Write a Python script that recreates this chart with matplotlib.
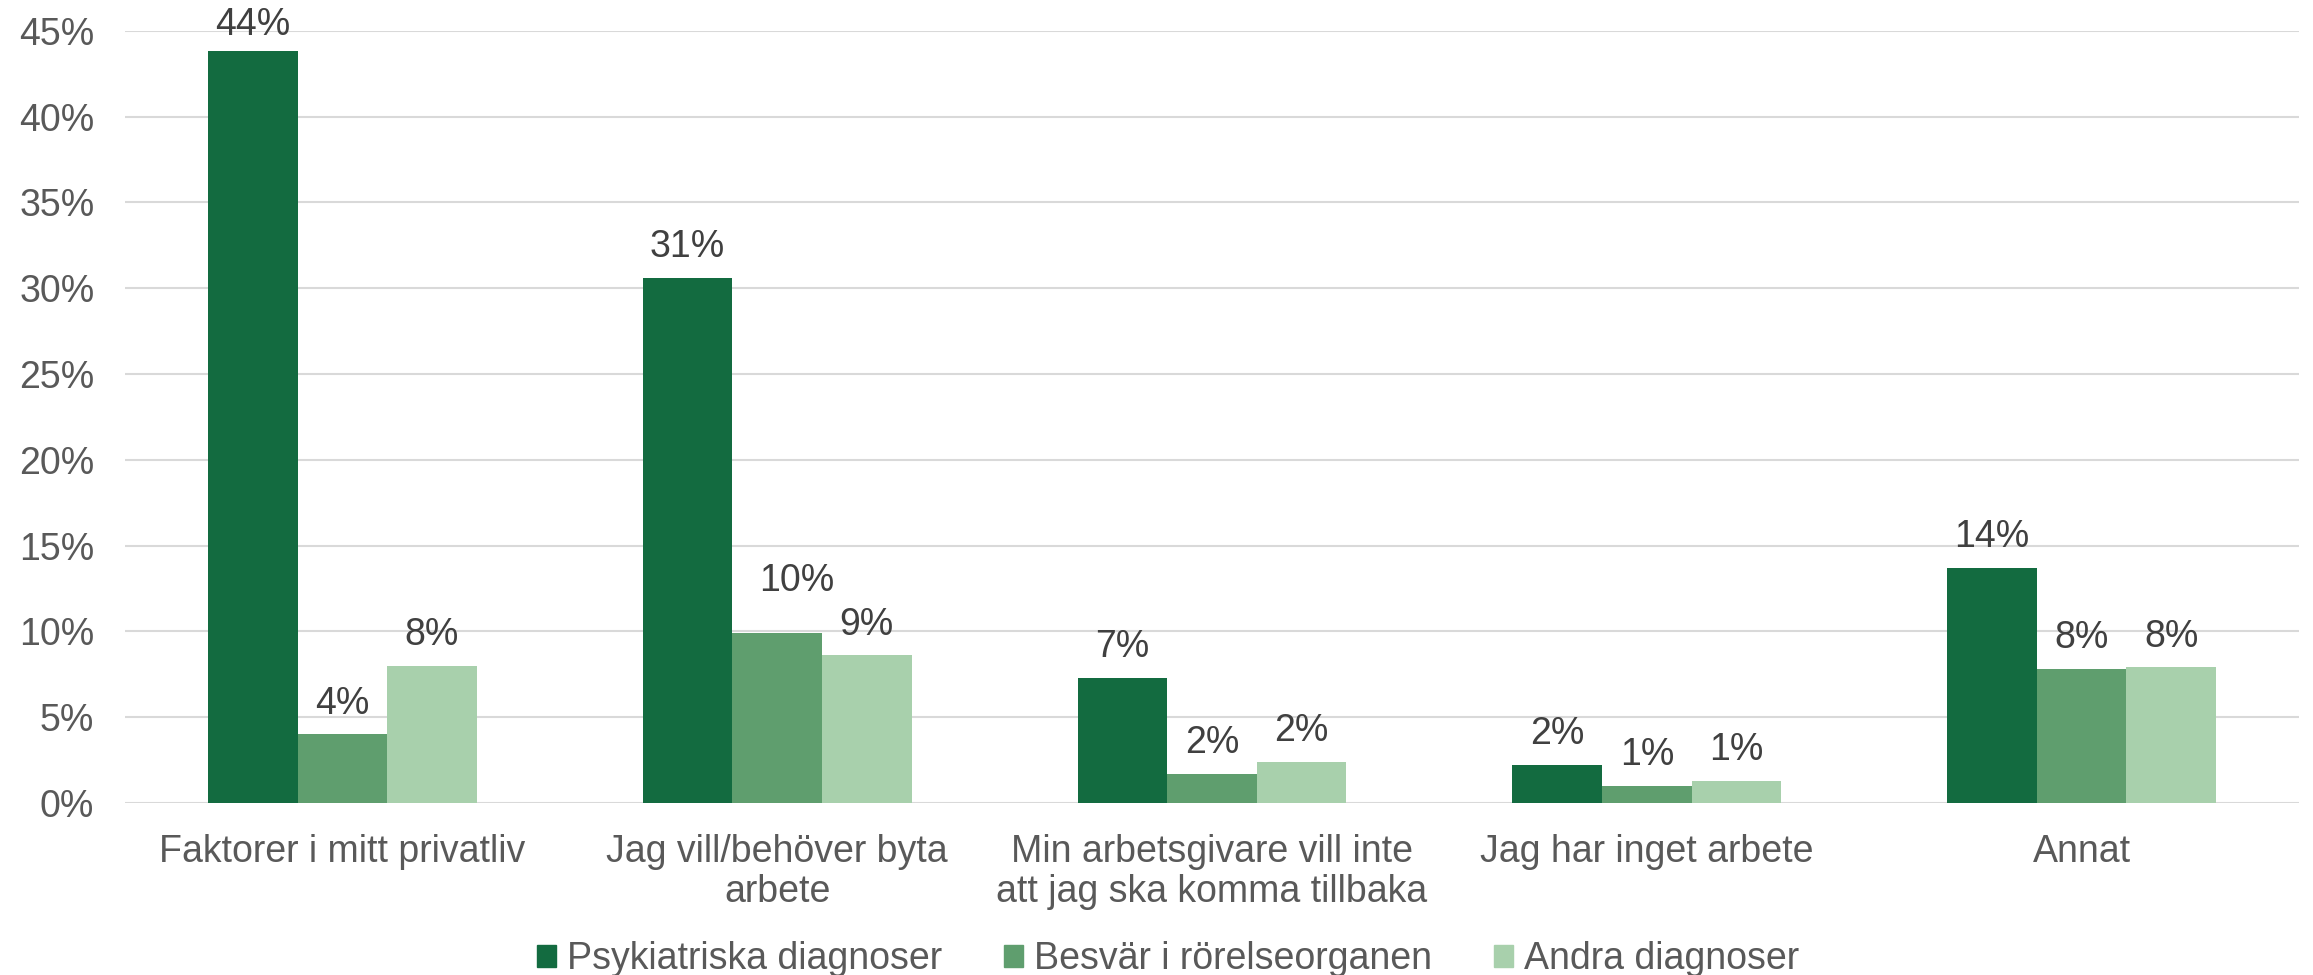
import matplotlib.pyplot as plt
from matplotlib.patches import Patch
import numpy as np

# -------------------- DATA --------------------
categories = [
    "Faktorer i mitt privatliv",
    "Jag vill/behöver byta\narbete",
    "Min arbetsgivare vill inte\natt jag ska komma tillbaka",
    "Jag har inget arbete",
    "Annat",
]
series_names = ["Psykiatriska diagnoser", "Besvär i rörelseorganen", "Andra diagnoser"]
psyk = [43.8, 30.6, 7.3, 2.2, 13.7]
besvar = [4.0, 9.9, 1.7, 1.0, 7.8]
andra = [8.0, 8.6, 2.4, 1.3, 7.9]
yticks = [0, 5, 10, 15, 20, 25, 30, 35, 40, 45]

# -------------------- STYLE --------------------
colors = ["#136B40", "#5F9E6E", "#A8D0AC"]
axis_grey = "#595959"
label_grey = "#404040"
fs = 27
plt.rcParams['font.family'] = ['Liberation Sans', 'DejaVu Sans']

fig = plt.figure(figsize=(23.13, 9.75), dpi=100)
ax = fig.add_axes([0.054, 0.1764, 0.94, 0.792])

x = np.arange(len(categories))
w = 0.206
all_series = [psyk, besvar, andra]

for i, vals in enumerate(all_series):
    bars = ax.bar(x + (i - 1) * w, vals, width=w, color=colors[i], zorder=3)
    for j, b in enumerate(bars):
        dx, dy = 0, 15
        # the 10% label sits a bit higher/right in the original
        if (i, j) == (1, 1):
            dx, dy = 14, 30
        elif (i, j) == (0, 0):
            dy = 12
        ax.annotate(f"{vals[j]:.0f}%", (b.get_x() + b.get_width() / 2, b.get_height()),
                    xytext=(dx, dy), textcoords='offset points',
                    ha='center', va='baseline', fontsize=fs, color=label_grey)

ax.set_xlim(-0.5, len(categories) - 0.5)
ax.set_ylim(0, 45)
ax.set_yticks(yticks)
ax.set_yticklabels([f"{v}%" for v in yticks])
ax.set_xticks(x)
ax.set_xticklabels(categories, linespacing=1.15)
ax.tick_params(axis='y', length=0, pad=22, labelsize=fs, labelcolor=axis_grey)
ax.tick_params(axis='x', length=0, pad=22, labelsize=fs, labelcolor=axis_grey)

ax.grid(axis='y', color='#D9D9D9', lw=1.5, zorder=0)
for s in ax.spines.values():
    s.set_visible(False)

handles = [Patch(color=c) for c in colors]
fig.legend(handles, series_names, loc='center', bbox_to_anchor=(0.505, 0.016), ncol=3,
           frameon=False, fontsize=fs, labelcolor=axis_grey,
           handlelength=0.5, handleheight=0.5, handletextpad=0.3, columnspacing=1.65,
           borderpad=0, borderaxespad=0)

fig.savefig("out.png", dpi=100)
